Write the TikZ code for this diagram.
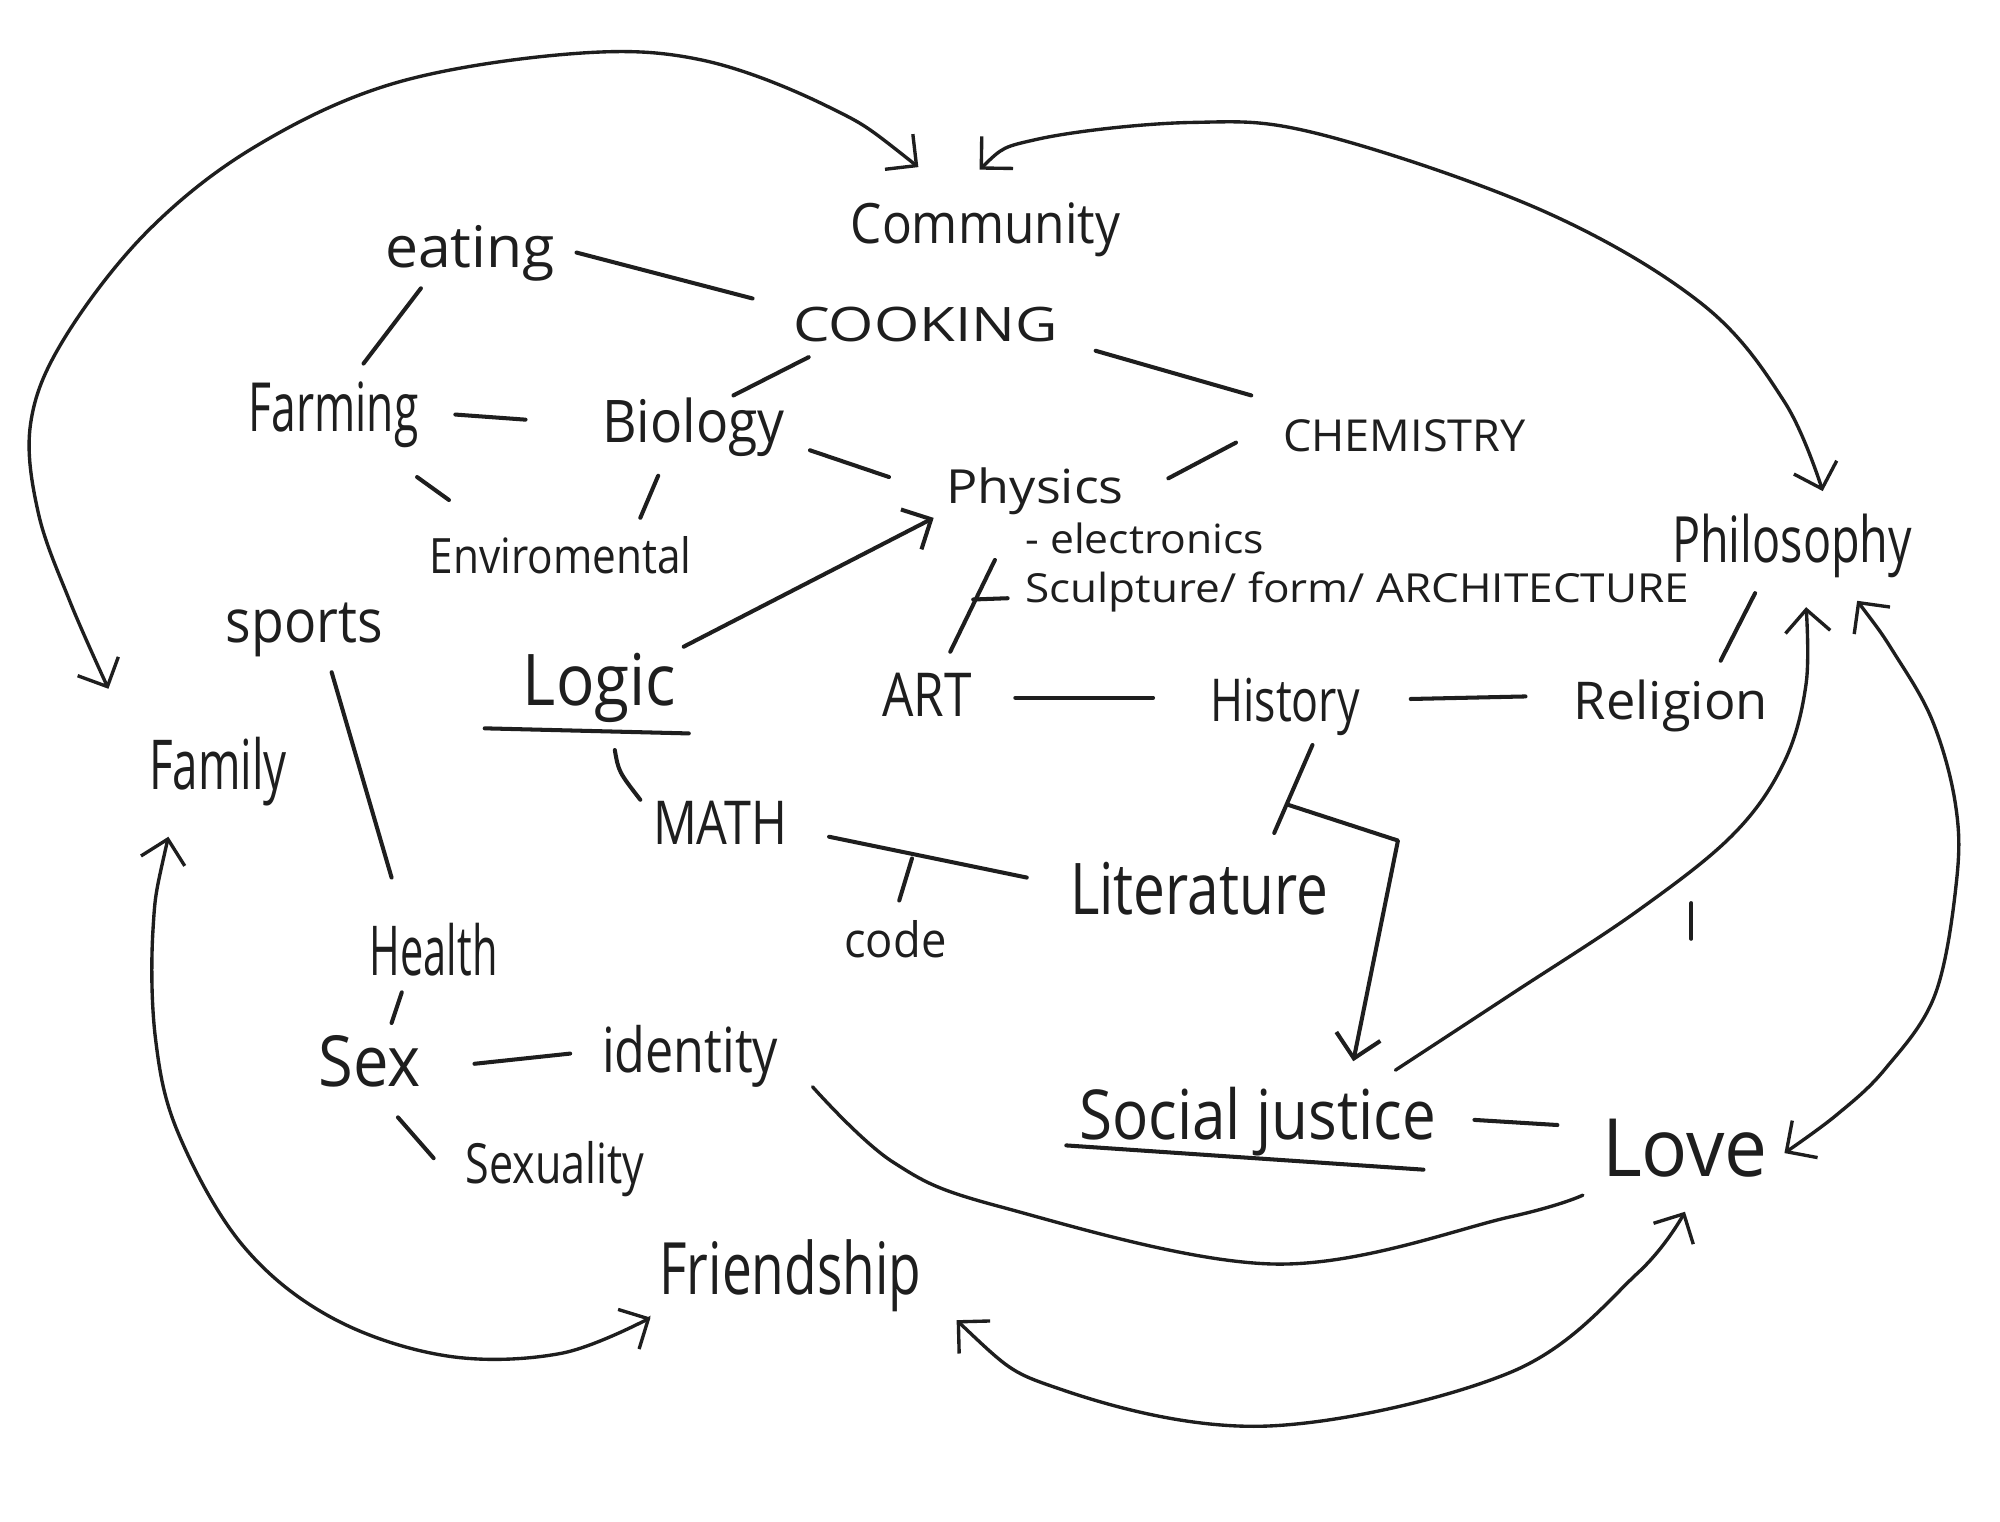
\documentclass[tikz,border=0pt]{standalone}
\usepackage{fontspec}
\setmainfont{Open Sans}
\usepackage{graphicx}
\usetikzlibrary{arrows.meta}
\definecolor{ink}{HTML}{1E1E1E}
\begin{document}
\begin{tikzpicture}[x=0.01cm,y=-0.01cm,
  lbl/.style={anchor=base west,inner sep=0pt,outer sep=0pt,text=ink},
  conn/.style={draw=ink,line width=0.9pt,line cap=round,line join=round},
  arc/.style={draw=ink,line width=0.75pt,line cap=round},
  >={Straight Barb[length=5pt,width=10pt]}]
\useasboundingbox[fill=white] (0,0) rectangle (1568,1193);
% ---------- labels ----------
\node[lbl] (community) at (667,191) {\resizebox{2.11cm}{0.32cm}{Community}};
\node[lbl] (eating) at (302,210) {\resizebox{1.33cm}{0.33cm}{eating}};
\node[lbl] (cooking) at (622,268) {\resizebox{2.07cm}{0.27cm}{COOKING}};
\node[lbl] (farming) at (195,338) {\resizebox{1.33cm}{0.39cm}{Farming}};
\node[lbl] (biology) at (472,347) {\resizebox{1.43cm}{0.35cm}{Biology}};
\node[lbl] (chemistry) at (1006,354) {\resizebox{1.90cm}{0.25cm}{CHEMISTRY}};
\node[lbl] (physics) at (742,395) {\resizebox{1.39cm}{0.28cm}{Physics}};
\node[lbl] (environ) at (337,450) {\resizebox{2.05cm}{0.29cm}{Enviromental}};
\node[lbl] (electronics) at (804,434) {\resizebox{1.87cm}{0.24cm}{- electronics}};
\node[lbl] (sculpture) at (804,472) {\resizebox{5.20cm}{0.24cm}{Sculpture/ form/ ARCHITECTURE}};
\node[lbl] (philosophy) at (1311,441) {\resizebox{1.88cm}{0.38cm}{Philosophy}};
\node[lbl] (sports) at (177,504) {\resizebox{1.23cm}{0.31cm}{sports}};
\node[lbl] (logic) at (410,553) {\resizebox{1.20cm}{0.41cm}{Logic}};
\node[lbl] (art) at (692,562) {\resizebox{0.70cm}{0.34cm}{ART}};
\node[lbl] (history) at (949,566) {\resizebox{1.17cm}{0.34cm}{History}};
\node[lbl] (religion) at (1234,564) {\resizebox{1.52cm}{0.31cm}{Religion}};
\node[lbl] (family) at (117,619) {\resizebox{1.08cm}{0.41cm}{Family}};
\node[lbl] (math) at (512,662) {\resizebox{1.05cm}{0.34cm}{MATH}};
\node[lbl] (literature) at (839,717) {\resizebox{2.02cm}{0.41cm}{Literature}};
\node[lbl] (code) at (662,751) {\resizebox{0.80cm}{0.29cm}{code}};
\node[lbl] (health) at (290,765) {\resizebox{1.00cm}{0.41cm}{Health}};
\node[lbl] (sex) at (250,852) {\resizebox{0.80cm}{0.40cm}{Sex}};
\node[lbl] (identity) at (472,841) {\resizebox{1.38cm}{0.37cm}{identity}};
\node[lbl] (socjust) at (846,893) {\resizebox{2.80cm}{0.41cm}{Social justice}};
\node[lbl] (love) at (1256,922) {\resizebox{1.30cm}{0.45cm}{Love}};
\node[lbl] (sexuality) at (365,928) {\resizebox{1.40cm}{0.33cm}{Sexuality}};
\node[lbl] (friendship) at (517,1015) {\resizebox{2.05cm}{0.43cm}{Friendship}};
% ---------- connector end points ----------
\coordinate (eA) at (452,198); \coordinate (cA) at (590,234);
\coordinate (eB) at (330,226); \coordinate (fA) at (285,285);
\coordinate (cB) at (634,280); \coordinate (bA) at (575,310);
\coordinate (fB) at (357,325); \coordinate (bB) at (412,329);
\coordinate (fC) at (327,374); \coordinate (vA) at (352,392);
\coordinate (bC) at (516,373); \coordinate (vB) at (502,406);
\coordinate (bD) at (635,353); \coordinate (pA) at (697,374);
\coordinate (cC) at (859,275); \coordinate (hA) at (981,310);
\coordinate (hB) at (969,347); \coordinate (pB) at (916,375);
\coordinate (lA) at (536,507); \coordinate (pC) at (732,406);
\coordinate (pD) at (780,439); \coordinate (aA) at (745,511);
\coordinate (tA) at (763,470); \coordinate (tB) at (790,469);
\coordinate (aB) at (796,547); \coordinate (hiA) at (904,547);
\coordinate (hiB) at (1106,548); \coordinate (rA) at (1196,546);
\coordinate (rB) at (1349,518); \coordinate (phA) at (1376,465);
\coordinate (lgA) at (482,588); \coordinate (mA) at (502,627);
\coordinate (mB) at (650,656); \coordinate (liA) at (805,688);
\coordinate (kA) at (715,673); \coordinate (kB) at (705,706);
\coordinate (hiC) at (1029,584); \coordinate (liB) at (999,653);
\coordinate (jA) at (1010,631); \coordinate (jB) at (1096,659);
\coordinate (sjA) at (1061,832);
\coordinate (spA) at (260,527); \coordinate (heA) at (307,688);
\coordinate (heB) at (315,778); \coordinate (sxA) at (307,802);
\coordinate (sxB) at (372,834); \coordinate (idA) at (447,826);
\coordinate (sxC) at (312,876); \coordinate (syA) at (340,908);
\coordinate (sjB) at (1156,878); \coordinate (loA) at (1221,882);
% ---------- short connectors ----------
\draw[conn] (eA) -- (cA);
\draw[conn] (eB) -- (fA);
\draw[conn] (cB) -- (bA);
\draw[conn] (fB) -- (bB);
\draw[conn] (fC) -- (vA);
\draw[conn] (bC) -- (vB);
\draw[conn] (bD) -- (pA);
\draw[conn] (cC) -- (hA);
\draw[conn] (hB) -- (pB);
\draw[conn,->] (lA) -- (pC);
\draw[conn] (pD) -- (aA);
\draw[conn] (tA) -- (tB);
\draw[conn] (aB) -- (hiA);
\draw[conn] (hiB) -- (rA);
\draw[conn] (rB) -- (phA);
\draw[conn] (lgA) .. controls (485,605) .. (mA);
\draw[conn] (mB) -- (liA);
\draw[conn] (kA) -- (kB);
\draw[conn] (hiC) -- (liB);
\draw[conn,->] (jA) -- (jB) -- (sjA);
\draw[conn] (spA) -- (heA);
\draw[conn] (heB) -- (sxA);
\draw[conn] (sxB) -- (idA);
\draw[conn] (sxC) -- (syA);
\draw[conn] (sjB) -- (loA);
% underlines
\draw[conn] (380,571) -- (540,575);
\draw[conn] (836,898) -- (1116,917);
% stray tick
\draw[conn] (1326,708) -- (1326,736);
% ---------- long arcs ----------
\coordinate (comL) at (720,131); \coordinate (famT) at (85,540);
\coordinate (comR) at (768,133); \coordinate (phT) at (1429,385);
\coordinate (sjC) at (1094,839); \coordinate (phB) at (1416,476);
\coordinate (phC) at (1456,471); \coordinate (loR) at (1399,904);
\coordinate (idB) at (637,852); \coordinate (loB) at (1241,937);
\coordinate (frR) at (750,1035); \coordinate (loC) at (1321,950);
\coordinate (famB) at (132,656); \coordinate (frL) at (510,1033);
\draw[arc,<->] plot[smooth,tension=0.6] coordinates {(comL) (650,84) (550,47) (450,42) (310,65) (200,115) (115,182) (50,266) (24,332) (30,402) (55,472) (famT)};
\draw[arc,<->] plot[smooth,tension=0.6] coordinates {(comR) (814,109) (934,96) (1034,105) (1209,165) (1334,238) (1399,315) (phT)};
\draw[arc,->] plot[smooth,tension=0.6] coordinates {(sjC) (1184,780) (1284,714) (1359,654) (1399,597) (1416,536) (phB)};
\draw[arc,<->] plot[smooth,tension=0.6] coordinates {(phC) (1485,512) (1515,565) (1533,630) (1534,690) (1517,780) (1478,838) (1440,874) (loR)};
\draw[arc] plot[smooth,tension=0.6] coordinates {(idB) (700,911) (784,946) (999,991) (1184,954) (loB)};
\draw[arc,<->] plot[smooth,tension=0.6] coordinates {(frR) (834,1090) (994,1118) (1184,1076) (1284,998) (loC)};
\draw[arc,<->] plot[smooth,tension=0.6] coordinates {(famB) (120,728) (122,815) (140,889) (190,976) (260,1033) (350,1063) (440,1061) (frL)};
\end{tikzpicture}
\end{document}
